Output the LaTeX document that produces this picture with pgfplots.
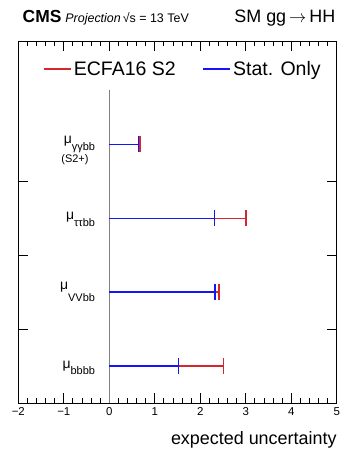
\documentclass[border=0pt]{standalone}
\usepackage{pgfplots}
\pgfplotsset{compat=1.18}
\usepackage{fontspec}
\setmainfont{Liberation Sans}
\definecolor{rootred}{RGB}{210,40,45}
\definecolor{rootblue}{RGB}{20,20,245}
\newcommand{\mulab}[2]{{\fontsize{14}{14}\selectfont μ}\raisebox{-#1bp}{\fontsize{11}{11}\selectfont #2}}
\begin{document}
\begin{tikzpicture}[x=1bp,y=1bp]
\node[anchor=base west, inner sep=0pt] at (22.5,429.3) {{\fontsize{17.5}{17.5}\selectfont\bfseries CMS}\hspace{4bp}{\fontsize{12.5}{12.5}\selectfont\itshape Projection}\hspace{2bp}{\fontsize{12.5}{12.5}\selectfont √s = 13 TeV}};
\node[anchor=base east, inner sep=0pt] at (335.5,429.3) {\fontsize{18}{18}\selectfont SM gg\,$\rightarrow$\,HH};
\begin{axis}[
  at={(18.3bp,49bp)}, anchor=south west,
  scale only axis, width=318.4bp, height=362bp,
  xmin=-2, xmax=5, ymin=0, ymax=4.9,
  xtick={-2,-1,0,1,2,3,4,5},
  xticklabels={−2,−1,0,1,2,3,4,5},
  minor x tick num=4,
  ytick={1,2,3}, yticklabels={},
  tick align=inside,
  major tick length=10bp, minor tick length=5bp,
  axis line style={line width=0.8bp},
  every tick/.style={black, line width=0.8bp},
  ticklabel style={font=\fontsize{11.5}{11.5}\selectfont},
  xticklabel style={yshift=-1bp},
  xlabel={expected uncertainty},
  xlabel style={at={(rel axis cs:1,0)}, anchor=north east, yshift=-28.5bp, inner sep=0pt, font=\fontsize{18}{18}\selectfont},
  clip=false,
  legend columns=2,
  legend style={at={(axis cs:-1.45,4.52)}, anchor=west, draw=none, fill=none, inner sep=0pt,
     font=\fontsize{19.6}{19.6}\selectfont,
     /tikz/every odd column/.append style={column sep=0bp},
     /tikz/every even column/.append style={column sep=25bp}},
  legend image code/.code={\draw[#1] (0bp,0bp) -- (27bp,0bp);},
]
\addlegendimage{rootred, line width=1.3bp}
\addlegendentry{ECFA16 S2}
\addlegendimage{rootblue, line width=1.3bp}
\addlegendentry{Stat. Only}
\addplot[gray, line width=0.8bp, forget plot] coordinates {(0,0) (0,4.24)};
% total (red)
\addplot[rootred, line width=1.6bp, mark=|, mark indices={2}, mark size=8bp, mark options={line width=1.6bp}, forget plot] coordinates {(0,0.5) (2.51,0.5)};
\addplot[rootred, line width=1.6bp, mark=|, mark indices={2}, mark size=8bp, mark options={line width=1.6bp}, forget plot] coordinates {(0,1.5) (2.41,1.5)};
\addplot[rootred, line width=1.6bp, mark=|, mark indices={2}, mark size=8bp, mark options={line width=1.6bp}, forget plot] coordinates {(0,2.5) (3.01,2.5)};
\addplot[rootred, line width=1.6bp, mark=|, mark indices={2}, mark size=8bp, mark options={line width=1.6bp}, forget plot] coordinates {(0,3.5) (0.67,3.5)};
% stat only (blue)
\addplot[rootblue, line width=1.6bp, mark=|, mark indices={2}, mark size=8bp, mark options={line width=1.6bp}, forget plot] coordinates {(0,0.5) (1.52,0.5)};
\addplot[rootblue, line width=1.6bp, mark=|, mark indices={2}, mark size=8bp, mark options={line width=1.6bp}, forget plot] coordinates {(0,1.5) (2.32,1.5)};
\addplot[rootblue, line width=1.6bp, mark=|, mark indices={2}, mark size=8bp, mark options={line width=1.6bp}, forget plot] coordinates {(0,2.5) (2.31,2.5)};
\addplot[rootblue, line width=1.6bp, mark=|, mark indices={2}, mark size=8bp, mark options={line width=1.6bp}, forget plot] coordinates {(0,3.5) (0.64,3.5)};
% labels
\node[anchor=base east, inner sep=0pt] at (axis cs:-0.31,0.464) {\mulab{5.3}{bbbb}};
\node[anchor=base east, inner sep=0pt] at (axis cs:-0.31,1.543) {\mulab{12.7}{VVbb}};
\node[anchor=base east, inner sep=0pt] at (axis cs:-0.31,2.485) {\mulab{7.3}{ττbb}};
\node[anchor=base east, inner sep=0pt] at (axis cs:-0.31,3.514) {\mulab{7.6}{γγbb}};
\node[anchor=base, inner sep=0pt] at (axis cs:-0.754,3.249) {\fontsize{11}{11}\selectfont (S2+)};
\end{axis}
\pgfresetboundingbox
\path[use as bounding box] (0,0) rectangle (341,452);
\end{tikzpicture}
\end{document}
